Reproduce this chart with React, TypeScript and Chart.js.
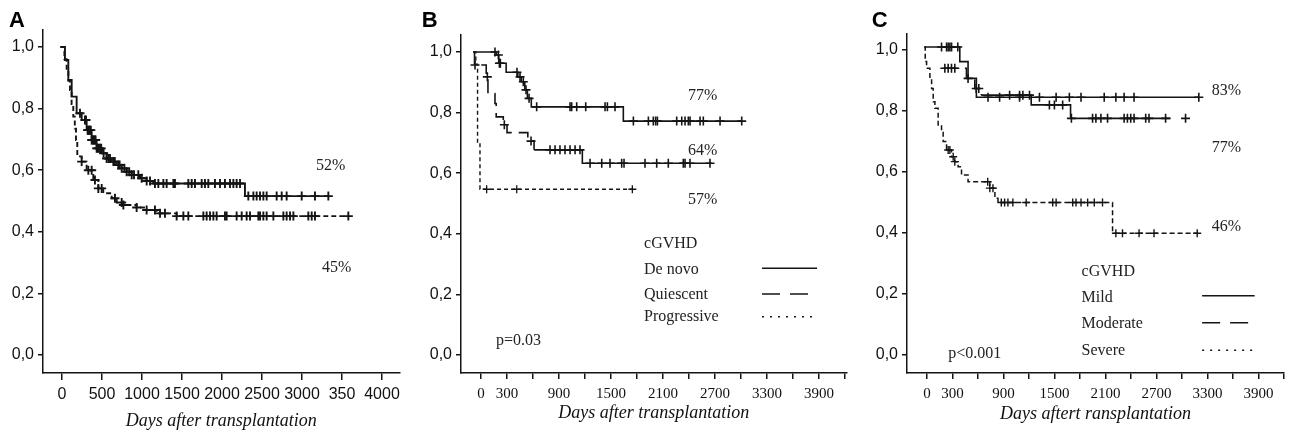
import { useEffect, useRef } from "react";
import { Chart, registerables } from "chart.js";

Chart.register(...registerables);

// ---------- shared ticks ----------
const yTickValues = [0, 0.2, 0.4, 0.6, 0.8, 1.0];
const yTickLabels = ["0,0", "0,2", "0,4", "0,6", "0,8", "1,0"];

const aXTickValues = [0, 500, 1000, 1500, 2000, 2500, 3000, 3500, 4000];
const aXTickLabels = ["0", "500", "1000", "1500", "2000", "2500", "3000", "350", "4000"];

const bcXTickValues = [0, 300, 600, 900, 1200, 1500, 1800, 2100, 2400, 2700, 3000, 3300, 3600, 3900, 4200];
const bcXTickLabels = ["0", "300", "", "900", "", "1500", "", "2100", "", "2700", "", "3300", "", "3900", ""];

// ---------- Panel A ----------
const aSolidDays = [-20, 37, 79, 121, 183, 246, 308, 371, 433, 500, 558, 620, 683, 745, 808, 870, 975, 1058, 1140, 2287, 3329];
const aSolidSurv = [1.0, 0.958, 0.893, 0.839, 0.785, 0.763, 0.73, 0.698, 0.671, 0.655, 0.638, 0.628, 0.617, 0.606, 0.595, 0.585, 0.574, 0.565, 0.557, 0.516, 0.516];
const aSolidCensor = [225, 287, 300, 320, 329, 340, 350, 360, 371, 380, 392, 400, 412, 420, 433, 445, 460, 475, 490, 520, 558, 580, 600, 642, 660, 704, 720, 746, 780, 808, 840, 871, 900, 954, 996, 1058, 1100, 1162, 1204, 1267, 1308, 1392, 1412, 1579, 1621, 1662, 1746, 1787, 1829, 1912, 1975, 2037, 2100, 2142, 2183, 2225, 2329, 2392, 2433, 2475, 2517, 2558, 2683, 2746, 2808, 2996, 3162, 3329];

const aDashDays = [-20, 30, 58, 80, 100, 120, 141, 160, 175, 191, 246, 308, 391, 454, 516, 621, 683, 766, 933, 1058, 1183, 1433, 3579];
const aDashSurv = [1.0, 0.96, 0.925, 0.89, 0.86, 0.815, 0.774, 0.735, 0.698, 0.645, 0.628, 0.6, 0.568, 0.541, 0.525, 0.509, 0.495, 0.487, 0.479, 0.471, 0.46, 0.451, 0.451];
const aDashCensor = [246, 329, 371, 412, 454, 496, 662, 746, 767, 933, 1058, 1162, 1225, 1287, 1433, 1517, 1579, 1767, 1808, 1850, 1892, 1933, 2037, 2058, 2183, 2246, 2308, 2350, 2454, 2475, 2517, 2558, 2642, 2767, 2808, 2850, 2892, 3079, 3121, 3162, 3579];

// ---------- Panel B ----------
const bDeNovoDays = [-89, 175, 205, 290, 425, 465, 505, 535, 580, 1642, 3008];
const bDeNovoSurv = [1.0, 0.99, 0.963, 0.933, 0.918, 0.902, 0.875, 0.847, 0.819, 0.772, 0.772];
const bDeNovoCensor = [161, 200, 212, 223, 415, 450, 488, 519, 554, 642, 1027, 1046, 1104, 1208, 1431, 1458, 1546, 1758, 1931, 1988, 2015, 2035, 2258, 2316, 2354, 2392, 2412, 2527, 2565, 2758, 3008];

const bQuiescentDays = [-89, -75, 60, 80, 161, 175, 257, 300, 540, 612, 1169, 2662];
const bQuiescentSurv = [1.0, 0.957, 0.918, 0.863, 0.83, 0.786, 0.76, 0.734, 0.706, 0.677, 0.633, 0.633];
const bQuiescentCensor = [-69, 73, 269, 577, 796, 854, 911, 969, 1027, 1085, 1142, 1258, 1393, 1488, 1623, 1650, 1892, 2027, 2161, 2334, 2354, 2411, 2642];

const bProgressiveDays = [-89, -60, -40, -12, 1758];
const bProgressiveSurv = [1.0, 0.96, 0.7, 0.547, 0.547];
const bProgressiveCensor = [65, 412, 1746];

// ---------- Panel C ----------
const cMildDays = [-23, 387, 484, 582, 3199];
const cMildSurv = [1.01, 0.962, 0.907, 0.845, 0.845];
const cMildCensor = [172, 231, 250, 270, 290, 363, 719, 855, 1090, 1324, 1520, 1676, 1813, 2086, 2223, 2320, 2437, 3199];

const cModerateDays = [200, 465, 563, 640, 1227, 1690, 2867];
const cModerateSurv = [0.94, 0.907, 0.874, 0.852, 0.82, 0.776, 0.776];
const cModerateCensor = [211, 250, 289, 328, 484, 580, 610, 973, 1090, 1129, 1207, 1441, 1500, 1597, 1700, 1949, 1988, 2047, 2125, 2320, 2359, 2398, 2437, 2574, 2613, 2808, 3043];

const cSevereDays = [-35, -20, -4, 35, 55, 74, 94, 132, 172, 191, 231, 289, 328, 367, 407, 484, 740, 800, 836, 2184, 3180];
const cSevereSurv = [1.01, 0.962, 0.94, 0.907, 0.874, 0.83, 0.809, 0.754, 0.732, 0.7, 0.672, 0.65, 0.634, 0.617, 0.59, 0.568, 0.547, 0.514, 0.5, 0.399, 0.399];
const cSevereCensor = [250, 270, 309, 328, 715, 740, 777, 875, 914, 953, 1011, 1168, 1480, 1520, 1715, 1754, 1813, 1891, 1969, 2066, 2223, 2301, 2496, 2672, 3180];

// ---------- helpers ----------
const INK = "#141414";
const SANS = '"Liberation Sans", Arial, sans-serif';
const SERIF = '"Liberation Serif", "Times New Roman", serif';

function stepAt(days: number[], surv: number[], t: number) {
  let v = surv[0];
  for (let i = 0; i < days.length; i++) if (days[i] <= t) v = surv[i];
  return v;
}

type SeriesStyle = { dash: number[]; dashUntil?: number; width: number; mark: number; markWidth: number };
type Series = { days: number[]; surv: number[]; censor: number[]; style: SeriesStyle };

function makeDatasets(series: Series[]) {
  const ds: any[] = [];
  series.forEach((s) => {
    const line: any = {
      type: "line",
      data: s.days.map((d, i) => ({ x: d, y: s.surv[i] })),
      stepped: "before",
      borderColor: INK,
      borderWidth: s.style.width,
      pointRadius: 0,
      fill: false,
      borderDash: s.style.dashUntil ? [] : s.style.dash,
    };
    if (s.style.dashUntil) {
      const until = s.style.dashUntil;
      line.segment = { borderDash: (ctx: any) => (ctx.p0.parsed.x < until ? s.style.dash : []) };
    }
    ds.push(line);
  });
  series.forEach((s) => {
    ds.push({
      type: "scatter",
      data: s.censor.map((t) => ({ x: t, y: stepAt(s.days, s.surv, t) })),
      pointStyle: "cross",
      pointRadius: s.style.mark,
      pointBorderWidth: s.style.markWidth,
      borderColor: INK,
      backgroundColor: INK,
      showLine: false,
    });
  });
  return ds;
}

type TextItem = { text: string; x: number; y: number };
type LegendLine = { x0: number; x1: number; y: number; dash: number[] };

type Panel = {
  letter: string;
  letterX: number;
  left: number;
  width: number;
  yW: number;
  padTop: number;
  padRight: number;
  xMin: number;
  xMax: number;
  yMin: number;
  yMax: number;
  xTicks: number[];
  xLabels: string[];
  xFont: any;
  tickLen: number;
  tickPad: number;
  title: string;
  titlePadBottom: number;
  series: Series[];
  texts: TextItem[];
  lines: LegendLine[];
};

const panels: Panel[] = [
  {
    letter: "A",
    letterX: 9,
    left: 0,
    width: 410,
    yW: 43,
    padTop: 30,
    padRight: 10.7,
    xMin: -237.5,
    xMax: 4216,
    yMin: -0.0584,
    yMax: 1.0552,
    xTicks: aXTickValues,
    xLabels: aXTickLabels,
    xFont: { family: SANS, size: 16 },
    tickLen: 7,
    tickPad: 5,
    title: "Days after transplantation",
    titlePadBottom: 1.5,
    series: [
      { days: aSolidDays, surv: aSolidSurv, censor: aSolidCensor, style: { dash: [], width: 1.9, mark: 4.5, markWidth: 1.9 } },
      { days: aDashDays, surv: aDashSurv, censor: aDashCensor, style: { dash: [5, 3], width: 1.9, mark: 4.5, markWidth: 1.9 } },
    ],
    texts: [
      { text: "52%", x: 3175, y: 0.601 },
      { text: "45%", x: 3250, y: 0.27 },
    ],
    lines: [],
  },
  {
    letter: "B",
    letterX: 11.7,
    left: 410,
    width: 445,
    yW: 51,
    padTop: 35,
    padRight: 8.5,
    xMin: -231,
    xMax: 4217,
    yMin: -0.0594,
    yMax: 1.0561,
    xTicks: bcXTickValues,
    xLabels: bcXTickLabels,
    xFont: { family: SERIF, size: 15 },
    tickLen: 6,
    tickPad: 6,
    title: "Days after transplantation",
    titlePadBottom: 9.5,
    series: [
      { days: bDeNovoDays, surv: bDeNovoSurv, censor: bDeNovoCensor, style: { dash: [], width: 1.6, mark: 4.5, markWidth: 1.6 } },
      { days: bQuiescentDays, surv: bQuiescentSurv, censor: bQuiescentCensor, style: { dash: [14, 7], dashUntil: 600, width: 1.6, mark: 4.5, markWidth: 1.6 } },
      { days: bProgressiveDays, surv: bProgressiveSurv, censor: bProgressiveCensor, style: { dash: [4, 3], width: 1.4, mark: 4, markWidth: 1.3 } },
    ],
    texts: [
      { text: "77%", x: 2388, y: 0.842 },
      { text: "64%", x: 2388, y: 0.66 },
      { text: "57%", x: 2388, y: 0.5 },
      { text: "cGVHD", x: 1881, y: 0.353 },
      { text: "De novo", x: 1881, y: 0.267 },
      { text: "Quiescent", x: 1881, y: 0.185 },
      { text: "Progressive", x: 1881, y: 0.113 },
      { text: "p=0.03", x: 173, y: 0.033 },
    ],
    lines: [
      { x0: 3242, x1: 3877, y: 0.286, dash: [] },
      { x0: 3242, x1: 3773, y: 0.201, dash: [18, 10] },
      { x0: 3242, x1: 3860, y: 0.126, dash: [2, 6] },
    ],
  },
  {
    letter: "C",
    letterX: 16.7,
    left: 855,
    width: 435,
    yW: 52,
    padTop: 33.3,
    padRight: 4.6,
    xMin: -234.4,
    xMax: 4200,
    yMin: -0.059,
    yMax: 1.0548,
    xTicks: bcXTickValues,
    xLabels: bcXTickLabels,
    xFont: { family: SERIF, size: 15 },
    tickLen: 6,
    tickPad: 6,
    title: "Days aftert ransplantation",
    titlePadBottom: 8.5,
    series: [
      { days: cMildDays, surv: cMildSurv, censor: cMildCensor, style: { dash: [], width: 1.6, mark: 4.5, markWidth: 1.6 } },
      { days: cModerateDays, surv: cModerateSurv, censor: cModerateCensor, style: { dash: [14, 7], dashUntil: 600, width: 1.6, mark: 4.5, markWidth: 1.6 } },
      { days: cSevereDays, surv: cSevereSurv, censor: cSevereCensor, style: { dash: [5, 3], width: 1.5, mark: 4, markWidth: 1.4 } },
    ],
    texts: [
      { text: "83%", x: 3352, y: 0.852 },
      { text: "77%", x: 3352, y: 0.667 },
      { text: "46%", x: 3352, y: 0.408 },
      { text: "cGVHD", x: 1820, y: 0.259 },
      { text: "Mild", x: 1820, y: 0.175 },
      { text: "Moderate", x: 1820, y: 0.0895 },
      { text: "Severe", x: 1820, y: 0.0 },
      { text: "p<0.001", x: 250, y: -0.009 },
    ],
    lines: [
      { x0: 3238, x1: 3856, y: 0.194, dash: [] },
      { x0: 3238, x1: 3780, y: 0.106, dash: [18, 10] },
      { x0: 3238, x1: 3856, y: 0.016, dash: [2, 6] },
    ],
  },
];

function annotationPlugin(p: Panel) {
  return {
    id: "annot" + p.letter,
    afterDraw(chart: any) {
      const { ctx } = chart;
      const x = chart.scales.x;
      const y = chart.scales.y;
      ctx.save();
      ctx.fillStyle = "#000";
      ctx.textBaseline = "alphabetic";
      ctx.textAlign = "left";
      ctx.font = `bold 22px ${SANS}`;
      ctx.fillText(p.letter, p.letterX, 27);
      ctx.fillStyle = "#222";
      ctx.font = `16px ${SERIF}`;
      p.texts.forEach((t) => ctx.fillText(t.text, x.getPixelForValue(t.x), y.getPixelForValue(t.y)));
      ctx.strokeStyle = INK;
      ctx.lineWidth = 1.5;
      p.lines.forEach((l) => {
        ctx.setLineDash(l.dash);
        ctx.beginPath();
        const py = y.getPixelForValue(l.y);
        ctx.moveTo(x.getPixelForValue(l.x0), py);
        ctx.lineTo(x.getPixelForValue(l.x1), py);
        ctx.stroke();
      });
      ctx.restore();
    },
  };
}

function PanelChart({ p }: { p: Panel }) {
  const ref = useRef<HTMLCanvasElement | null>(null);
  useEffect(() => {
    if (!ref.current) return;
    const chart = new Chart(ref.current, {
      type: "line",
      data: { datasets: makeDatasets(p.series) },
      options: {
        animation: false,
        responsive: false,
        devicePixelRatio: 1,
        events: [],
        layout: { padding: { left: 0, top: p.padTop, right: p.padRight, bottom: 0 } },
        plugins: { legend: { display: false }, tooltip: { enabled: false } },
        scales: {
          x: {
            type: "linear",
            min: p.xMin,
            max: p.xMax,
            afterBuildTicks: (s: any) => {
              s.ticks = p.xTicks.map((v) => ({ value: v }));
            },
            afterFit: (s: any) => {
              s.height = 61;
            },
            ticks: {
              autoSkip: false,
              maxRotation: 0,
              includeBounds: false,
              padding: p.tickPad,
              color: "#111",
              font: p.xFont,
              callback: (v: any) => {
                const i = p.xTicks.indexOf(Number(v));
                return i >= 0 ? p.xLabels[i] : "";
              },
            },
            grid: { drawOnChartArea: false, drawTicks: true, tickLength: p.tickLen, color: INK, lineWidth: 1.5 },
            border: { display: true, color: INK, width: 1.5 },
            title: {
              display: true,
              text: p.title,
              color: "#111",
              font: { family: SERIF, size: 18, style: "italic" },
              padding: { top: 0, bottom: p.titlePadBottom },
            },
          },
          y: {
            type: "linear",
            min: p.yMin,
            max: p.yMax,
            afterBuildTicks: (s: any) => {
              s.ticks = yTickValues.map((v) => ({ value: v }));
            },
            afterFit: (s: any) => {
              s.width = p.yW;
            },
            ticks: {
              autoSkip: false,
              includeBounds: false,
              padding: 4,
              color: "#111",
              font: { family: SANS, size: 16 },
              callback: (v: any) => {
                const i = yTickValues.indexOf(Number(v));
                return i >= 0 ? yTickLabels[i] : "";
              },
            },
            grid: { drawOnChartArea: false, drawTicks: true, tickLength: 5, color: INK, lineWidth: 1.5 },
            border: { display: true, color: INK, width: 1.5 },
          },
        },
      } as any,
      plugins: [annotationPlugin(p)],
    });
    return () => chart.destroy();
  }, [p]);
  return (
    <canvas
      ref={ref}
      width={p.width}
      height={434}
      style={{ position: "absolute", left: p.left, top: 0, width: p.width, height: 434, display: "block" }}
    />
  );
}

export default function App() {
  return (
    <div style={{ position: "fixed", left: 0, top: 0, width: 1290, height: 434, background: "#fff", overflow: "hidden" }}>
      {panels.map((p) => (
        <PanelChart key={p.letter} p={p} />
      ))}
    </div>
  );
}
